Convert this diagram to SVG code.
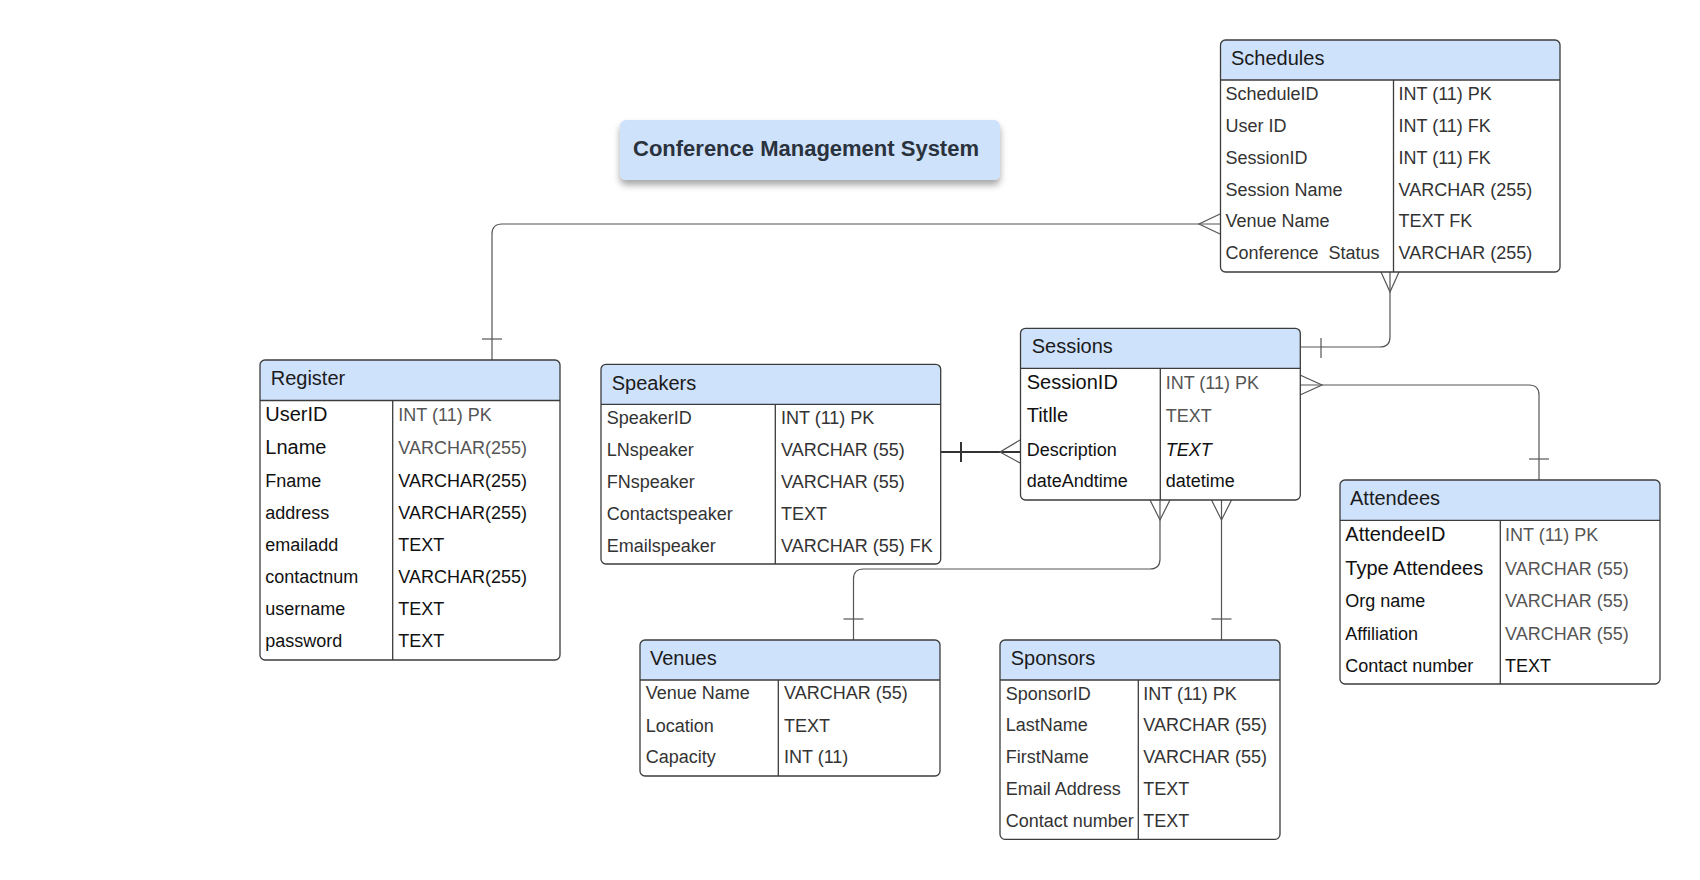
<svg xmlns="http://www.w3.org/2000/svg" width="1700" height="880" viewBox="0 0 1700 880">
<defs>
<filter id="sh" x="-10%" y="-30%" width="120%" height="170%">
<feDropShadow dx="0" dy="5" stdDeviation="3.5" flood-color="#000" flood-opacity="0.35"/>
</filter>
<style>
text{font-family:"Liberation Sans",Arial,sans-serif;}
.hdr{fill:#cfe2fb;}
.box{fill:none;stroke:#3c3c3c;stroke-width:1.3;}
.bg{fill:#fff;}
.ln{stroke:#3c3c3c;stroke-width:1.3;fill:none;}
.tt{font-size:20px;fill:#1b1b1b;}
.f{font-size:18px;fill:#333;}
.fb{font-size:18px;fill:#111;}
.fl{font-size:20px;fill:#111;}
.g{font-size:18px;fill:#555;}
.c{stroke:#555;stroke-width:1.2;fill:none;}
.cd{stroke:#333;stroke-width:2;fill:none;}
</style>
</defs>
<rect width="1700" height="880" fill="#fff"/>

<g id="connectors">
<path class="c" d="M492,360 V234 Q492,224 502,224 H1220"/>
<path class="c" d="M482,339 H502"/>
<path class="c" d="M1220,214 L1199,224 L1220,234"/>
<path class="c" d="M1390,272 V337 Q1390,347 1380,347 H1300"/>
<path class="c" d="M1381,272 L1390,292 L1399,272"/>
<path class="c" d="M1321,338 V358"/>
<path class="c" d="M1300,385 H1529 Q1539,385 1539,395 V480"/>
<path class="c" d="M1300,375 L1322,385 L1300,395"/>
<path class="c" d="M1529,459 H1549"/>
<path class="cd" d="M941,452 H1020"/>
<path class="cd" d="M961,442 V462"/>
<path class="c" d="M1020,440 L1000,452 L1020,463"/>
<path class="c" d="M1160,500 V559 Q1160,569 1150,569 H863.5 Q853.5,569 853.5,579 V640"/>
<path class="c" d="M1150,500 L1160,520 L1170,500"/>
<path class="c" d="M843.5,619 H863.5"/>
<path class="c" d="M1221.5,500 V640"/>
<path class="c" d="M1211.5,500 L1221.5,520 L1231.5,500"/>
<path class="c" d="M1211.5,619 H1231.5"/>
</g>

<g id="title">
<rect x="620" y="120" width="380" height="60" rx="6" fill="#cfe2fb" filter="url(#sh)"/>
<text x="633" y="156" font-size="22" font-weight="bold" fill="#2a323d">Conference Management System</text>
</g>

<g id="schedules">
<rect class="bg" x="1220.5" y="40" width="339.5" height="232" rx="5"/>
<path class="hdr" d="M1220.5,80 V45 Q1220.5,40 1225.5,40 H1555 Q1560,40 1560,45 V80 Z"/>
<rect class="box" x="1220.5" y="40" width="339.5" height="232" rx="5"/>
<path class="ln" d="M1220.5,80 H1560 M1393.5,80 V272"/>
<text class="tt" x="1231" y="64.5">Schedules</text>
<text class="f" x="1225.5" y="99.5">ScheduleID</text>
<text class="f" x="1225.5" y="131.5">User ID</text>
<text class="f" x="1225.5" y="163.5">SessionID</text>
<text class="f" x="1225.5" y="195.5">Session Name</text>
<text class="f" x="1225.5" y="227">Venue Name</text>
<text class="f" x="1225.5" y="259" xml:space="preserve">Conference  Status</text>
<text class="f" x="1398.5" y="99.5">INT (11) PK</text>
<text class="f" x="1398.5" y="131.5">INT (11) FK</text>
<text class="f" x="1398.5" y="163.5">INT (11) FK</text>
<text class="f" x="1398.5" y="195.5">VARCHAR (255)</text>
<text class="f" x="1398.5" y="227">TEXT FK</text>
<text class="f" x="1398.5" y="259">VARCHAR (255)</text>
</g>

<g id="register">
<rect class="bg" x="260" y="360" width="300" height="300" rx="5"/>
<path class="hdr" d="M260,400.5 V365 Q260,360 265,360 H555 Q560,360 560,365 V400.5 Z"/>
<rect class="box" x="260" y="360" width="300" height="300" rx="5"/>
<path class="ln" d="M260,400.5 H560 M392.7,400.5 V660"/>
<text class="tt" x="270.7" y="384.5">Register</text>
<text class="fl" x="265.3" y="421">UserID</text>
<text class="fl" x="265.3" y="454.3">Lname</text>
<text class="fb" x="265.3" y="486.7">Fname</text>
<text class="fb" x="265.3" y="519.3">address</text>
<text class="fb" x="265.3" y="551.3">emailadd</text>
<text class="fb" x="265.3" y="583.3">contactnum</text>
<text class="fb" x="265.3" y="615">username</text>
<text class="fb" x="265.3" y="646.7">password</text>
<text class="g" x="398.3" y="421">INT (11) PK</text>
<text class="g" x="398.3" y="454.3">VARCHAR(255)</text>
<text class="fb" x="398.3" y="486.7">VARCHAR(255)</text>
<text class="fb" x="398.3" y="519.3">VARCHAR(255)</text>
<text class="fb" x="398.3" y="551.3">TEXT</text>
<text class="fb" x="398.3" y="583.3">VARCHAR(255)</text>
<text class="fb" x="398.3" y="615">TEXT</text>
<text class="fb" x="398.3" y="646.7">TEXT</text>
</g>

<g id="speakers">
<rect class="bg" x="601" y="364.3" width="339.7" height="199.7" rx="5"/>
<path class="hdr" d="M601,404.3 V369.3 Q601,364.3 606,364.3 H935.7 Q940.7,364.3 940.7,369.3 V404.3 Z"/>
<rect class="box" x="601" y="364.3" width="339.7" height="199.7" rx="5"/>
<path class="ln" d="M601,404.3 H940.7 M775.3,404.3 V564"/>
<text class="tt" x="611.7" y="389.5">Speakers</text>
<text class="f" x="606.7" y="424">SpeakerID</text>
<text class="f" x="606.7" y="455.7">LNspeaker</text>
<text class="f" x="606.7" y="487.7">FNspeaker</text>
<text class="f" x="606.7" y="520">Contactspeaker</text>
<text class="f" x="606.7" y="551.7">Emailspeaker</text>
<text class="f" x="781" y="424">INT (11) PK</text>
<text class="f" x="781" y="455.7">VARCHAR (55)</text>
<text class="f" x="781" y="487.7">VARCHAR (55)</text>
<text class="f" x="781" y="520">TEXT</text>
<text class="f" x="781" y="551.7">VARCHAR (55) FK</text>
</g>

<g id="sessions">
<rect class="bg" x="1020.5" y="328.3" width="279.8" height="171.7" rx="5"/>
<path class="hdr" d="M1020.5,368.3 V333.3 Q1020.5,328.3 1025.5,328.3 H1295.3 Q1300.3,328.3 1300.3,333.3 V368.3 Z"/>
<rect class="box" x="1020.5" y="328.3" width="279.8" height="171.7" rx="5"/>
<path class="ln" d="M1020.5,368.3 H1300.3 M1160.3,368.3 V500"/>
<text class="tt" x="1031.7" y="353">Sessions</text>
<text class="fl" x="1026.7" y="389">SessionID</text>
<text class="fl" x="1026.7" y="422.3">Titlle</text>
<text class="fb" x="1026.7" y="455.7">Description</text>
<text class="fb" x="1026.7" y="486.7">dateAndtime</text>
<text class="g" x="1165.7" y="389">INT (11) PK</text>
<text class="g" x="1165.7" y="422.3">TEXT</text>
<text class="fb" x="1165.7" y="455.7" font-style="italic">TEXT</text>
<text class="fb" x="1165.7" y="486.7">datetime</text>
</g>

<g id="attendees">
<rect class="bg" x="1340" y="480" width="320" height="204" rx="5"/>
<path class="hdr" d="M1340,520.3 V485 Q1340,480 1345,480 H1655 Q1660,480 1660,485 V520.3 Z"/>
<rect class="box" x="1340" y="480" width="320" height="204" rx="5"/>
<path class="ln" d="M1340,520.3 H1660 M1500.3,520.3 V684"/>
<text class="tt" x="1350" y="504.5">Attendees</text>
<text class="fl" x="1345.3" y="540.7">AttendeeID</text>
<text class="fl" x="1345.3" y="575">Type Attendees</text>
<text class="fb" x="1345.3" y="607.3">Org name</text>
<text class="fb" x="1345.3" y="640">Affiliation</text>
<text class="fb" x="1345.3" y="671.7">Contact number</text>
<text class="g" x="1505" y="540.7">INT (11) PK</text>
<text class="g" x="1505" y="575">VARCHAR (55)</text>
<text class="g" x="1505" y="607.3">VARCHAR (55)</text>
<text class="g" x="1505" y="640">VARCHAR (55)</text>
<text class="fb" x="1505" y="671.7">TEXT</text>
</g>

<g id="venues">
<rect class="bg" x="640" y="640" width="300" height="136" rx="5"/>
<path class="hdr" d="M640,680 V645 Q640,640 645,640 H935 Q940,640 940,645 V680 Z"/>
<rect class="box" x="640" y="640" width="300" height="136" rx="5"/>
<path class="ln" d="M640,680 H940 M778.3,680 V776"/>
<text class="tt" x="650" y="664.5">Venues</text>
<text class="f" x="645.7" y="699.3">Venue Name</text>
<text class="f" x="645.7" y="731.7">Location</text>
<text class="f" x="645.7" y="763.3">Capacity</text>
<text class="f" x="784" y="699.3">VARCHAR (55)</text>
<text class="f" x="784" y="731.7">TEXT</text>
<text class="f" x="784" y="763.3">INT (11)</text>
</g>

<g id="sponsors">
<rect class="bg" x="1000" y="640" width="280" height="199.3" rx="5"/>
<path class="hdr" d="M1000,680 V645 Q1000,640 1005,640 H1275 Q1280,640 1280,645 V680 Z"/>
<rect class="box" x="1000" y="640" width="280" height="199.3" rx="5"/>
<path class="ln" d="M1000,680 H1280 M1138.3,680 V839.3"/>
<text class="tt" x="1010.7" y="664.5">Sponsors</text>
<text class="f" x="1005.7" y="700">SponsorID</text>
<text class="f" x="1005.7" y="731">LastName</text>
<text class="f" x="1005.7" y="763.3">FirstName</text>
<text class="f" x="1005.7" y="795">Email Address</text>
<text class="f" x="1005.7" y="827.3">Contact number</text>
<text class="f" x="1143.3" y="700">INT (11) PK</text>
<text class="f" x="1143.3" y="731">VARCHAR (55)</text>
<text class="f" x="1143.3" y="763.3">VARCHAR (55)</text>
<text class="f" x="1143.3" y="795">TEXT</text>
<text class="f" x="1143.3" y="827.3">TEXT</text>
</g>
</svg>
